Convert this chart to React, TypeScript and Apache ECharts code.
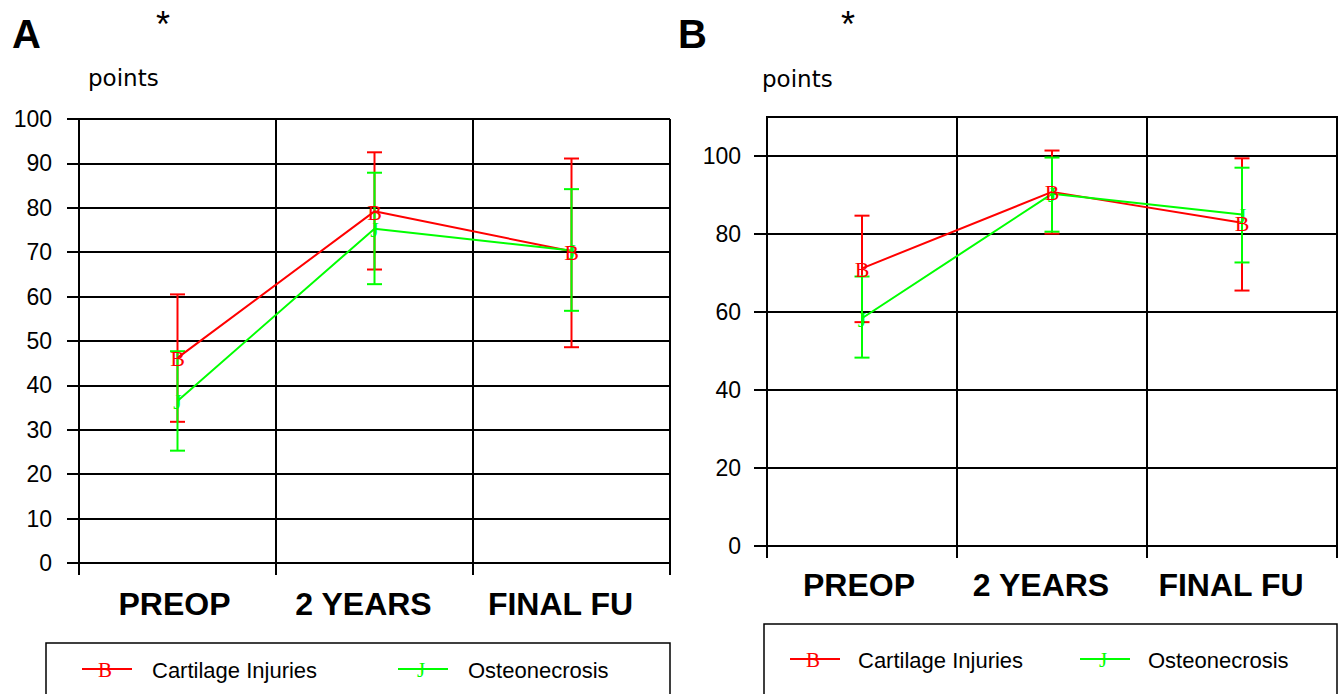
import React, { useEffect, useRef } from "react";
import * as echarts from "echarts";

const categories = ["PREOP", "2 YEARS", "FINAL FU"];

// Panel A
const aCartMean = [46.2, 79.2, 70.2];
const aCartLow = [31.8, 66.1, 48.6];
const aCartHigh = [60.5, 92.5, 91.1];
const aOstMean = [36.5, 75.3, 70.4];
const aOstLow = [25.3, 62.8, 56.8];
const aOstHigh = [47.7, 87.9, 84.2];
const aTicks = [0, 10, 20, 30, 40, 50, 60, 70, 80, 90, 100];

// Panel B
const bCartMean = [71.2, 90.8, 82.9];
const bCartLow = [57.4, 80.1, 65.5];
const bCartHigh = [84.7, 101.4, 99.4];
const bOstMean = [58.4, 90.3, 85.0];
const bOstLow = [48.3, 80.6, 72.7];
const bOstHigh = [69.1, 99.6, 97.0];
const bTicks = [0, 20, 40, 60, 80, 100];

const seriesNames = ["Cartilage Injuries", "Osteonecrosis"];
const markers = ["B", "J"];
const RED = "#ff0000";
const GREEN = "#00ff00";
const SANS = '"Liberation Sans", Arial, sans-serif';
const WIDE = '"DejaVu Sans", sans-serif';
const SERIF = '"Liberation Serif", "DejaVu Serif", serif';

function errorSeries(idx: number, low: number[], high: number[], color: string, z: number) {
  return {
    type: "custom",
    xAxisIndex: idx,
    yAxisIndex: idx,
    z,
    silent: true,
    encode: { x: 0, y: [1, 2] },
    data: categories.map((_, i) => [i, low[i], high[i]]),
    renderItem: (params: any, api: any) => {
      const x = api.value(0);
      const lo = api.coord([x, api.value(1)]);
      const hi = api.coord([x, api.value(2)]);
      const hw = 7.5;
      const st = { stroke: color, lineWidth: 2 };
      return {
        type: "group",
        children: [
          { type: "line", shape: { x1: lo[0], y1: lo[1], x2: hi[0], y2: hi[1] }, style: st },
          { type: "line", shape: { x1: lo[0] - hw, y1: lo[1], x2: lo[0] + hw, y2: lo[1] }, style: st },
          { type: "line", shape: { x1: hi[0] - hw, y1: hi[1], x2: hi[0] + hw, y2: hi[1] }, style: st },
        ],
      };
    },
  };
}

function lineSeries(idx: number, name: string, mean: number[], color: string, z: number) {
  return {
    type: "line",
    name,
    xAxisIndex: idx,
    yAxisIndex: idx,
    z,
    symbol: "none",
    lineStyle: { color, width: 2 },
    itemStyle: { color },
    data: mean,
  };
}

function markerSeries(idx: number, mean: number[], letter: string, color: string, z: number) {
  return {
    type: "custom",
    xAxisIndex: idx,
    yAxisIndex: idx,
    z,
    silent: true,
    encode: { x: 0, y: 1 },
    data: categories.map((_, i) => [i, mean[i]]),
    renderItem: (params: any, api: any) => {
      const p = api.coord([api.value(0), api.value(1)]);
      return {
        type: "text",
        x: p[0],
        y: p[1] + 1,
        style: {
          text: letter,
          fill: color,
          font: `22px ${SERIF}`,
          align: "center",
          verticalAlign: "middle",
        },
      };
    },
  };
}

function legendGraphic(x0: number, y0: number, w: number, redX: number, redTextX: number, greenX: number, greenTextX: number, cy: number) {
  const items: any[] = [
    {
      type: "rect",
      shape: { x: x0, y: y0, width: w, height: 80 },
      style: { fill: "#fff", stroke: "#000", lineWidth: 1.5 },
      z: 50,
    },
  ];
  const entries = [
    { lx: redX, tx: redTextX, color: RED, letter: markers[0], name: seriesNames[0] },
    { lx: greenX, tx: greenTextX, color: GREEN, letter: markers[1], name: seriesNames[1] },
  ];
  entries.forEach((e) => {
    items.push({
      type: "line",
      shape: { x1: e.lx, y1: cy, x2: e.lx + 50, y2: cy },
      style: { stroke: e.color, lineWidth: 2 },
      z: 51,
    });
    items.push({
      type: "text",
      x: e.lx + 23,
      y: cy + 1,
      style: { text: e.letter, fill: e.color, font: `21px ${SERIF}`, align: "center", verticalAlign: "middle" },
      z: 52,
    });
    items.push({
      type: "text",
      x: e.tx,
      y: cy + 1,
      style: { text: e.name, fill: "#000", font: `22px ${SANS}`, align: "left", verticalAlign: "middle" },
      z: 52,
    });
  });
  return items;
}

export default function App() {
  const ref = useRef<HTMLDivElement>(null);
  useEffect(() => {
    if (!ref.current) return;
    const chart = echarts.init(ref.current, null, { renderer: "svg" });
    const black = "#000";
    const xLabelStyle = { fontSize: 32, fontWeight: "bold", fontFamily: SANS, color: black };
    const xAxisBase = (gridIndex: number, margin: number) => ({
      type: "category",
      gridIndex,
      data: categories,
      boundaryGap: true,
      axisLine: { show: true, lineStyle: { color: black, width: 2 } },
      axisTick: { show: true, length: 12, interval: 0, alignWithLabel: false, lineStyle: { color: black, width: 2 } },
      axisLabel: {
        interval: 0,
        margin,
        color: black,
        formatter: (v: string, i: number) => (i === 0 ? `{a|${v}}` : `{b|${v}}`),
        rich: {
          a: { ...xLabelStyle, padding: [0, 6, 0, 0] },
          b: { ...xLabelStyle, padding: [0, 22, 0, 0] },
        },
      },
      splitLine: { show: true, interval: 0, lineStyle: { color: black, width: 2 } },
    });
    const option: any = {
      animation: false,
      backgroundColor: "#fff",
      grid: [
        { left: 79, right: 670, top: 119, bottom: 131, containLabel: false },
        { left: 767, right: 3, top: 117, bottom: 148, containLabel: false, show: true, borderColor: black, borderWidth: 2, backgroundColor: "transparent" },
      ],
      xAxis: [xAxisBase(0, 25), xAxisBase(1, 23)],
      yAxis: [
        {
          type: "value",
          gridIndex: 0,
          min: aTicks[0],
          max: aTicks[aTicks.length - 1],
          interval: 10,
          axisLine: { show: true, lineStyle: { color: black, width: 2 } },
          axisTick: { show: true, length: 12, lineStyle: { color: black, width: 2 } },
          axisLabel: { margin: 27, color: black, fontSize: 23, fontFamily: SANS },
          splitLine: { show: true, lineStyle: { color: black, width: 2 } },
        },
        {
          type: "value",
          gridIndex: 1,
          min: 0,
          max: 110,
          interval: 20,
          axisLine: { show: true, lineStyle: { color: black, width: 2 } },
          axisTick: { show: true, length: 13, customValues: bTicks, lineStyle: { color: black, width: 2 } },
          axisLabel: { margin: 26, color: black, fontSize: 23, fontFamily: SANS, customValues: bTicks },
          splitLine: { show: true, lineStyle: { color: black, width: 2 } },
        },
      ],
      series: [
        errorSeries(0, aOstLow, aOstHigh, GREEN, 3),
        errorSeries(0, aCartLow, aCartHigh, RED, 2),
        lineSeries(0, seriesNames[0], aCartMean, RED, 4),
        lineSeries(0, seriesNames[1], aOstMean, GREEN, 5),
        markerSeries(0, aCartMean, markers[0], RED, 7),
        markerSeries(0, aOstMean, markers[1], GREEN, 6),
        errorSeries(1, bCartLow, bCartHigh, RED, 2),
        errorSeries(1, bOstLow, bOstHigh, GREEN, 3),
        lineSeries(1, seriesNames[0], bCartMean, RED, 4),
        lineSeries(1, seriesNames[1], bOstMean, GREEN, 5),
        markerSeries(1, bCartMean, markers[0], RED, 7),
        markerSeries(1, bOstMean, markers[1], GREEN, 6),
      ],
      graphic: [
        { type: "text", x: 12, y: 14, style: { text: "A", fill: black, font: `bold 40px ${SANS}` } },
        { type: "text", x: 163, y: 6, style: { text: "*", fill: black, font: `36px ${SANS}`, align: "center" } },
        { type: "text", x: 88, y: 66, style: { text: "points", fill: black, font: `23px ${WIDE}` } },
        { type: "text", x: 678, y: 14, style: { text: "B", fill: black, font: `bold 40px ${SANS}` } },
        { type: "text", x: 848, y: 6, style: { text: "*", fill: black, font: `36px ${SANS}`, align: "center" } },
        { type: "text", x: 762, y: 67, style: { text: "points", fill: black, font: `23px ${WIDE}` } },
        ...legendGraphic(46, 643, 624, 82, 152, 398, 468, 669),
        ...legendGraphic(764, 624, 573, 790, 858, 1080, 1148, 659),
      ],
    };
    chart.setOption(option);
    return () => chart.dispose();
  }, []);
  return (
    <div
      ref={ref}
      style={{ position: "absolute", left: 0, top: 0, width: 1340, height: 694, background: "#fff" }}
    />
  );
}
